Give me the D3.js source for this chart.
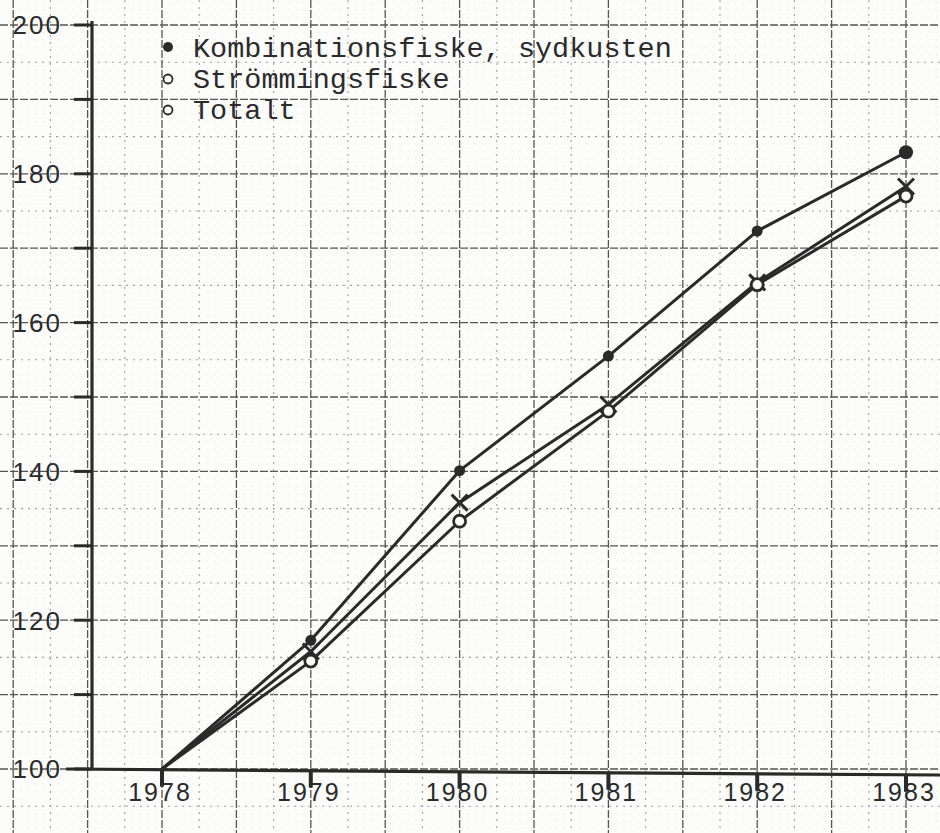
<!DOCTYPE html>
<html lang="sv">
<head>
<meta charset="UTF-8">
<title>Index 1978-1983</title>
<script src="https://cdn.jsdelivr.net/npm/d3@7/dist/d3.min.js"></script>
<style>
  html, body { margin: 0; padding: 0; background: #fcfcfb; }
  svg { display: block; }
  .lbl { font-family: "Liberation Sans", Arial, sans-serif; fill: #2b2b2b; }
  .leg { font-family: "Liberation Mono", "DejaVu Sans Mono", monospace; fill: #2b2b2b; }
</style>
</head>
<body>
<div id="chart"></div>
<script>
// data
var years = [1978, 1979, 1980, 1981, 1982, 1983];
var kombination = [100, 117.3, 140.1, 155.5, 172.3, 182.9];
var totalt = [100, 115.8, 135.8, 149.0, 165.4, 178.3];
var stromming = [100, 114.5, 133.3, 148.1, 165.1, 177.0];
var yTicks = [100, 120, 140, 160, 180, 200];
var legendNames = ["Kombinationsfiske, sydkusten", "Strömmingsfiske", "Totalt"];

var W = 940, H = 833;
var ink = "#2a2a2a";

var x = d3.scaleLinear().domain([1978, 1983]).range([162, 906]);
var y = d3.scaleLinear().domain([100, 200]).range([769, 25]);
var axisX = 92;

var svg = d3.select("#chart").append("svg")
    .attr("width", W).attr("height", H);

// fine millimetre dots
var fine = "";
d3.range(1977.0, 1983.3, 0.05).forEach(function (t) {
    var px = x(t);
    d3.range(88, 212, 1).forEach(function (v) {
        fine += "M" + px.toFixed(1) + "," + y(v).toFixed(1) + "h1.3";
    });
});
svg.append("path").attr("d", fine)
    .attr("stroke", "#8a8a8a").attr("stroke-width", 1.2)
    .attr("opacity", 0.14);

// grid (minor every 5 units / quarter year, major every 10 / half year)
var g = svg.append("g");
d3.range(85, 215, 5).forEach(function (v) {
    var major = v % 10 === 0;
    g.append("line")
        .attr("x1", 0).attr("x2", W)
        .attr("y1", y(v)).attr("y2", y(v))
        .attr("stroke", major ? "#555" : "#a0a0a0")
        .attr("stroke-width", major ? 1.3 : 1.1)
        .attr("stroke-dasharray", major ? "8,2" : "2,5");
});
d3.range(1977.0, 1983.3, 0.25).forEach(function (t) {
    var major = Math.abs(t * 2 - Math.round(t * 2)) < 1e-6;
    g.append("line")
        .attr("x1", x(t)).attr("x2", x(t))
        .attr("y1", 0).attr("y2", H)
        .attr("stroke", major ? "#555" : "#a0a0a0")
        .attr("stroke-width", major ? 1.3 : 1.1)
        .attr("stroke-dasharray", major ? "8,2" : "2,5");
});

// axes
svg.append("line")
    .attr("x1", axisX).attr("x2", axisX)
    .attr("y1", y(200) - 4).attr("y2", y(100))
    .attr("stroke", ink).attr("stroke-width", 3.2);
svg.append("line")
    .attr("x1", 66).attr("x2", W)
    .attr("y1", y(100)).attr("y2", y(100) + 6)
    .attr("stroke", ink).attr("stroke-width", 3.2);

d3.range(100, 201, 10).forEach(function (v) {
    svg.append("line")
        .attr("x1", axisX - 18).attr("x2", axisX)
        .attr("y1", y(v)).attr("y2", y(v))
        .attr("stroke", ink).attr("stroke-width", 3);
});
svg.selectAll(".ylab").data(yTicks).enter().append("text")
    .attr("class", "lbl")
    .attr("x", 62).attr("y", function (d) { return y(d); })
    .attr("dy", "0.36em")
    .attr("text-anchor", "end")
    .attr("font-size", 26)
    .attr("letter-spacing", 2)
    .text(function (d) { return d; });

svg.selectAll(".xt").data(years).enter().append("line")
    .attr("x1", function (d) { return x(d); })
    .attr("x2", function (d) { return x(d); })
    .attr("y1", function (d) { return y(100) + (x(d) - 66) / (W - 66) * 6; })
    .attr("y2", function (d) { return y(100) + 17 + (x(d) - 66) / (W - 66) * 6; })
    .attr("stroke", ink).attr("stroke-width", 4);
svg.selectAll(".xlab").data(years).enter().append("text")
    .attr("class", "lbl")
    .attr("x", function (d) { return x(d) - 2; })
    .attr("y", y(100) + 32)
    .attr("text-anchor", "middle")
    .attr("font-size", 25)
    .attr("letter-spacing", 2)
    .text(function (d) { return d; });

// series lines
var line = d3.line()
    .x(function (d, i) { return x(years[i]); })
    .y(function (d) { return y(d); });

[kombination, totalt, stromming].forEach(function (s) {
    svg.append("path").datum(s)
        .attr("d", line)
        .attr("fill", "none")
        .attr("stroke", ink)
        .attr("stroke-width", 3)
        .attr("stroke-linejoin", "round");
});

// markers
var pts = years.slice(1);
svg.selectAll(".mk").data(pts).enter().append("circle")
    .attr("cx", function (d) { return x(d); })
    .attr("cy", function (d) { return y(kombination[years.indexOf(d)]); })
    .attr("r", function (d) { return d === 1983 ? 7 : 5.5; })
    .attr("fill", ink);

svg.selectAll(".mx").data(pts).enter().append("path")
    .attr("transform", function (d) {
        return "translate(" + x(d) + "," + y(totalt[years.indexOf(d)]) + ")";
    })
    .attr("d", "M-8,-8L8,8M8,-8L-8,8")
    .attr("stroke", ink).attr("stroke-width", 3);

svg.selectAll(".mo").data(pts).enter().append("circle")
    .attr("cx", function (d) { return x(d); })
    .attr("cy", function (d) { return y(stromming[years.indexOf(d)]); })
    .attr("r", 6)
    .attr("fill", "#fcfcfb")
    .attr("stroke", ink).attr("stroke-width", 2.8);

// legend
var leg = svg.append("g");
legendNames.forEach(function (name, i) {
    var ly = 47 + i * 31;
    if (i === 0) {
        leg.append("circle").attr("cx", 168).attr("cy", ly).attr("r", 5)
            .attr("fill", ink);
    } else {
        leg.append("circle").attr("cx", 168).attr("cy", ly + 1).attr("r", 4.5)
            .attr("fill", "none").attr("stroke", ink).attr("stroke-width", 1.8);
    }
    leg.append("text").attr("class", "leg")
        .attr("x", 193).attr("y", ly)
        .attr("dy", "0.35em")
        .attr("font-size", 28)
        .attr("textLength", name.length * 17.1)
        .attr("lengthAdjust", "spacingAndGlyphs")
        .text(name);
});
</script>
</body>
</html>
